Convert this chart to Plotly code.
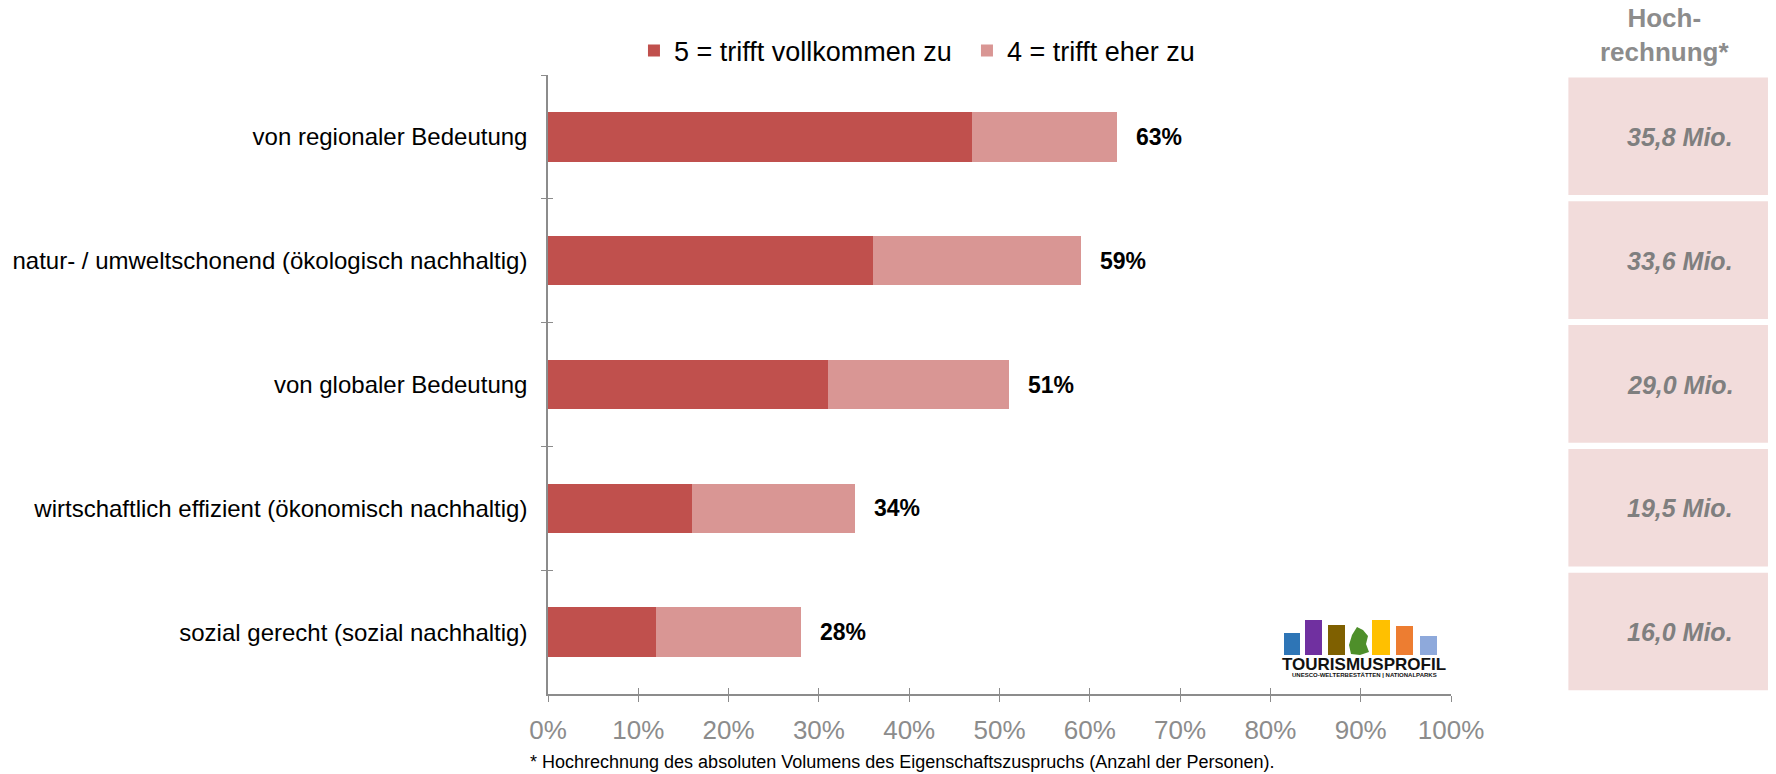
import plotly.graph_objects as go

# Survey data: share of respondents agreeing with each attribute
categories = [
    "von regionaler Bedeutung",
    "natur- / umweltschonend (ökologisch nachhaltig)",
    "von globaler Bedeutung",
    "wirtschaftlich effizient (ökonomisch nachhaltig)",
    "sozial gerecht (sozial nachhaltig)",
]
trifft_vollkommen = [0.47, 0.36, 0.31, 0.16, 0.12]   # 5 = trifft vollkommen zu
trifft_eher = [0.16, 0.23, 0.20, 0.18, 0.16]         # 4 = trifft eher zu
hochrechnung = ["35,8 Mio.", "33,6 Mio.", "29,0 Mio.", "19,5 Mio.", "16,0 Mio."]
x_ticks = [i / 10 for i in range(11)]

DARK = "#C0504D"
LIGHT = "#D99694"
BOX = "#F2DCDB"
AXIS = "#8C8C8C"
FONT = "Liberation Sans, Arial, sans-serif"

fig = go.Figure()
fig.add_trace(go.Bar(
    y=categories, x=trifft_vollkommen, orientation="h",
    name="5 = trifft vollkommen zu", marker=dict(color=DARK, line=dict(width=0)),
    hoverinfo="skip",
))
fig.add_trace(go.Bar(
    y=categories, x=trifft_eher, orientation="h",
    name="4 = trifft eher zu", marker=dict(color=LIGHT, line=dict(width=0)),
    hoverinfo="skip",
))
# empty trace so the overlay axes (inner tick halves) get drawn
fig.add_trace(go.Scatter(
    x=[], y=[], xaxis="x2", yaxis="y2", mode="markers",
    showlegend=False, hoverinfo="skip",
))

annotations = []
# total labels at the end of each stacked bar
for cat, a, b in zip(categories, trifft_vollkommen, trifft_eher):
    total = a + b
    annotations.append(dict(
        x=total, y=cat, xref="x", yref="y", text=f"<b>{round(total * 100)}%</b>",
        showarrow=False, xanchor="left", xshift=17,
        font=dict(family=FONT, size=23, color="#000000"),
    ))

# right-hand projection column
shapes = []
for i, (cat, val) in enumerate(zip(categories, hochrechnung)):
    shapes.append(dict(
        type="rect", xref="paper", yref="y", x0=1.130, x1=1.351,
        y0=i - 0.48, y1=i + 0.47, fillcolor=BOX, line=dict(width=0), layer="below",
    ))
    annotations.append(dict(
        x=1.2536, y=cat, xref="paper", yref="y", text=f"<b><i>{val}</i></b>",
        showarrow=False, xanchor="center",
        font=dict(family=FONT, size=25, color="#7F7F7F"),
    ))

annotations.append(dict(
    x=1.236, y=1.064, xref="paper", yref="paper", text="<b>Hoch-<br>rechnung*</b>",
    showarrow=False, xanchor="center", yanchor="middle",
    font=dict(family=FONT, size=26, color="#8C8C8C"),
))

annotations.append(dict(
    x=0.392, y=-0.11, xref="paper", yref="paper",
    text="* Hochrechnung des absoluten Volumens des Eigenschaftszuspruchs (Anzahl der Personen).",
    showarrow=False, xanchor="center", yanchor="middle",
    font=dict(family=FONT, size=18, color="#000000"),
))

# TOURISMUSPROFIL logo
def px_x(v):
    return (v - 548) / 903

def px_y(v):
    return (694 - v) / 619

logo_bars = [
    (1284, 1300, 633, "#2E75B6"),
    (1305, 1322, 620, "#7030A0"),
    (1328, 1345, 625, "#7F6000"),
    (1372, 1390, 620, "#FFC000"),
    (1396, 1413, 626, "#ED7D31"),
    (1420, 1437, 636, "#8EA9DB"),
]
for x0, x1, top, col in logo_bars:
    shapes.append(dict(
        type="rect", xref="paper", yref="paper",
        x0=px_x(x0), x1=px_x(x1), y0=px_y(655), y1=px_y(top),
        fillcolor=col, line=dict(width=0),
    ))
shapes.append(dict(
    type="path", xref="paper", yref="paper",
    path=(f"M {px_x(1357)},{px_y(627)} L {px_x(1363)},{px_y(630)} L {px_x(1368)},{px_y(636)} "
          f"L {px_x(1366)},{px_y(644)} L {px_x(1369)},{px_y(652)} L {px_x(1360)},{px_y(655)} "
          f"L {px_x(1351)},{px_y(654)} L {px_x(1349)},{px_y(645)} L {px_x(1352)},{px_y(635)} Z"),
    fillcolor="#4E8F2A", line=dict(width=0),
))
annotations.append(dict(
    x=px_x(1364), y=px_y(664), xref="paper", yref="paper", text="<b>TOURISMUSPROFIL</b>",
    showarrow=False, xanchor="center", yanchor="middle",
    font=dict(family=FONT, size=17, color="#111111"),
))
annotations.append(dict(
    x=px_x(1364), y=px_y(675), xref="paper", yref="paper",
    text="<b>UNESCO-WELTERBESTÄTTEN | NATIONALPARKS</b>",
    showarrow=False, xanchor="center", yanchor="middle",
    font=dict(family=FONT, size=6, color="#111111"),
))

fig.update_layout(
    width=1776, height=774,
    margin=dict(l=548, r=325, t=75, b=80, autoexpand=False),
    barmode="stack", bargap=0.6,
    plot_bgcolor="white", paper_bgcolor="white",
    font=dict(family=FONT, size=24, color="#000000"),
    showlegend=True,
    legend=dict(
        orientation="h", traceorder="normal",
        x=0.0952, xanchor="left", y=1.039, yanchor="middle",
        font=dict(family=FONT, size=27, color="#000000"),
        entrywidth=288, entrywidthmode="pixels",
        tracegroupgap=0, bgcolor="rgba(0,0,0,0)",
    ),
    xaxis=dict(
        range=[0, 1], tickvals=x_ticks, tickformat=".0%",
        showline=True, linecolor=AXIS, linewidth=1.5,
        ticks="outside", ticklen=6, tickcolor=AXIS, tickwidth=1,
        showgrid=False, zeroline=False, ticklabelstandoff=6,
        tickfont=dict(family=FONT, size=26, color="#8C8C8C"),
    ),
    # overlay axis supplying the inner half of the crossing x ticks
    xaxis2=dict(
        overlaying="x", anchor="y2", side="bottom", range=[0, 1], tickvals=x_ticks,
        ticks="inside", ticklen=6, tickcolor=AXIS, tickwidth=1,
        showticklabels=False, showgrid=False, zeroline=False, showline=False,
    ),
    yaxis=dict(
        categoryorder="array", categoryarray=categories, autorange="reversed",
        showline=True, linecolor=AXIS, linewidth=1.5,
        ticks="outside", ticklen=5, tickcolor=AXIS, tickson="boundaries",
        showgrid=False, zeroline=False, ticklabelstandoff=14,
        tickfont=dict(family=FONT, size=24, color="#000000"),
    ),
    # overlay axis supplying the inner half of the crossing y ticks
    yaxis2=dict(
        overlaying="y", anchor="x2", side="left",
        range=[len(categories) - 0.5, -0.5],
        tickvals=[i - 0.5 for i in range(len(categories) + 1)],
        ticks="inside", ticklen=5, tickcolor=AXIS, tickwidth=1,
        showticklabels=False, showgrid=False, zeroline=False, showline=False,
    ),
    shapes=shapes,
    annotations=annotations,
)

fig.write_html("out.html")
